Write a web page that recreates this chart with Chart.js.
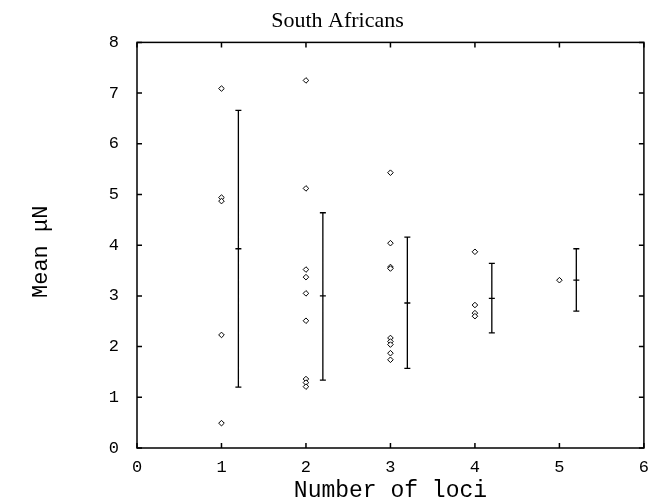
<!DOCTYPE html>
<html>
<head>
<meta charset="utf-8">
<script src="https://cdn.jsdelivr.net/npm/chart.js@4.4.0/dist/chart.umd.min.js"></script>
<style>
html, body { margin: 0; padding: 0; background: #fff; }
</style>
</head>
<body>
<canvas id="lociChart" width="650" height="502"></canvas>
<script>
// individual values per number of loci
const lociX = [1, 1, 1, 1, 1,
               2, 2, 2, 2, 2, 2, 2, 2, 2,
               3, 3, 3, 3, 3, 3, 3, 3, 3,
               4, 4, 4, 4,
               5];
const meanMuN = [7.09, 4.94, 4.87, 2.23, 0.49,
                 7.25, 5.12, 3.52, 3.37, 3.05, 2.51, 1.36, 1.29, 1.21,
                 5.43, 4.04, 3.57, 3.54, 2.17, 2.10, 2.04, 1.87, 1.74,
                 3.87, 2.82, 2.66, 2.60,
                 3.31];

// mean +/- spread, drawn just right of each column
const barX = [1.2, 2.2, 3.2, 4.2, 5.2];
const barLow = [1.20, 1.34, 1.57, 2.27, 2.70];
const barMid = [3.93, 3.00, 2.86, 2.95, 3.31];
const barHigh = [6.66, 4.64, 4.16, 3.64, 3.93];

const xTicks = [0, 1, 2, 3, 4, 5, 6];
const yTicks = [0, 1, 2, 3, 4, 5, 6, 7, 8];

const points = lociX.map((x, i) => ({ x: x, y: meanMuN[i] }));

const frameAndBars = {
    id: 'frameAndBars',
    afterDatasetsDraw(chart) {
        const ctx = chart.ctx;
        const a = chart.chartArea;
        const x = chart.scales.x;
        const y = chart.scales.y;
        ctx.save();
        ctx.strokeStyle = '#000';
        ctx.lineWidth = 1.5;
        ctx.strokeRect(a.left, a.top, a.right - a.left, a.bottom - a.top);

        // inward ticks on all four sides
        ctx.beginPath();
        xTicks.forEach(v => {
            const px = x.getPixelForValue(v);
            ctx.moveTo(px, a.bottom); ctx.lineTo(px, a.bottom - 5);
            ctx.moveTo(px, a.top); ctx.lineTo(px, a.top + 5);
        });
        yTicks.forEach(v => {
            const py = y.getPixelForValue(v);
            ctx.moveTo(a.left, py); ctx.lineTo(a.left + 5, py);
            ctx.moveTo(a.right, py); ctx.lineTo(a.right - 5, py);
        });
        ctx.stroke();

        // error bars
        ctx.lineWidth = 1.3;
        ctx.beginPath();
        barX.forEach((bx, i) => {
            const px = x.getPixelForValue(bx);
            const lo = y.getPixelForValue(barLow[i]);
            const hi = y.getPixelForValue(barHigh[i]);
            const mid = y.getPixelForValue(barMid[i]);
            ctx.moveTo(px, lo); ctx.lineTo(px, hi);
            ctx.moveTo(px - 3, lo); ctx.lineTo(px + 3, lo);
            ctx.moveTo(px - 3, hi); ctx.lineTo(px + 3, hi);
            ctx.moveTo(px - 3, mid); ctx.lineTo(px + 3, mid);
        });
        ctx.stroke();
        ctx.restore();
    }
};

const ctx = document.getElementById('lociChart').getContext('2d');
new Chart(ctx, {
    type: 'scatter',
    data: {
        datasets: [{
            label: 'Mean muN',
            data: points,
            pointStyle: 'rectRot',
            pointRadius: 2.8,
            pointBackgroundColor: '#fff',
            pointBorderColor: '#000',
            pointBorderWidth: 1
        }]
    },
    plugins: [frameAndBars],
    options: {
        responsive: false,
        animation: false,
        devicePixelRatio: 1,
        layout: { padding: { left: 30, right: 5, top: 0, bottom: 0 } },
        plugins: {
            legend: { display: false },
            tooltip: { enabled: false },
            title: {
                display: true,
                text: 'South Africans',
                color: '#000',
                font: { family: 'Liberation Serif', size: 22, weight: 'normal', lineHeight: 1.2 },
                padding: { top: 8, bottom: 8 }
            }
        },
        scales: {
            x: {
                type: 'linear',
                min: 0,
                max: 6,
                afterFit: s => { s.height = 54; },
                afterBuildTicks: s => { s.ticks = xTicks.map(v => ({ value: v })); },
                grid: { display: false },
                border: { display: false },
                ticks: {
                    color: '#000',
                    padding: 1,
                    autoSkip: false,
                    maxRotation: 0,
                    font: { family: 'Liberation Mono', size: 17 }
                },
                title: {
                    display: true,
                    text: 'Number of loci',
                    color: '#000',
                    padding: 0,
                    font: { family: 'Liberation Mono', size: 23, lineHeight: 1 }
                }
            },
            y: {
                type: 'linear',
                min: 0,
                max: 8,
                afterFit: s => { s.width = 107; },
                afterBuildTicks: s => { s.ticks = yTicks.map(v => ({ value: v })); },
                grid: { display: false },
                border: { display: false },
                ticks: {
                    color: '#000',
                    padding: 10,
                    autoSkip: false,
                    font: { family: 'Liberation Mono', size: 17 }
                },
                title: {
                    display: true,
                    text: 'Mean \u03bcN ',
                    color: '#000',
                    padding: { top: 0, bottom: 0 },
                    font: { family: 'Liberation Mono', size: 22, lineHeight: 1 }
                }
            }
        }
    }
});
</script>
</body>
</html>
